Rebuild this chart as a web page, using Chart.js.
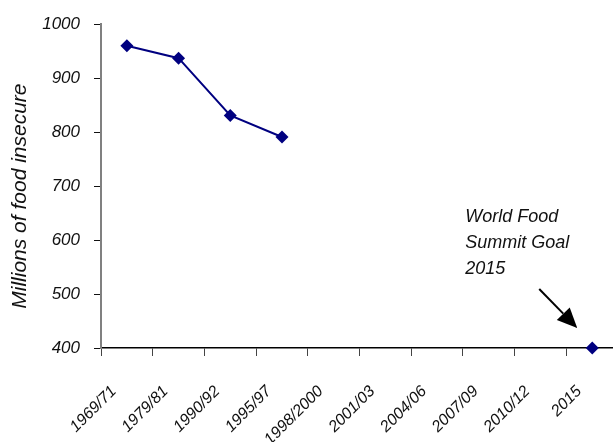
<!DOCTYPE html>
<html>
<head>
<meta charset="utf-8">
<script src="https://cdn.jsdelivr.net/npm/chart.js@4/dist/chart.umd.min.js"></script>
<style>
  html, body { margin: 0; padding: 0; overflow: hidden; background: #ffffff; }
  canvas { display: block; }
</style>
</head>
<body>
<canvas id="chart" width="632" height="442"></canvas>
<script>
// Survey periods along the horizontal axis
const periods = ['1969/71', '1979/81', '1990/92', '1995/97', '1998/2000',
                 '2001/03', '2004/06', '2007/09', '2010/12', '2015'];
// Millions of food-insecure people; the last value is the 2015 summit target
const foodInsecure = [960, 937, 831, 791, null, null, null, null, null, 400];
// Vertical axis range and step
const yMin = 400;
const yMax = 1000;
const yStep = 100;
// Axis title and callout text for the target point
const yTitle = 'Millions of food insecure';
const goalLines = ['World Food', 'Summit Goal', '2015'];
const goalIndex = periods.indexOf('2015');

const sans = "'Liberation Sans', Arial, sans-serif";

// Vertical axis title, drawn a little below the middle of the plot
const axisTitle = {
  id: 'axisTitle',
  afterDraw(chart) {
    const { ctx, chartArea } = chart;
    ctx.save();
    ctx.translate(20, (chartArea.top + chartArea.bottom) / 2 + 10);
    ctx.rotate(-Math.PI / 2);
    ctx.font = 'italic 21px ' + sans;
    ctx.fillStyle = '#111';
    ctx.textAlign = 'center';
    ctx.textBaseline = 'middle';
    ctx.fillText(yTitle, 0, 0);
    ctx.restore();
  }
};

// Callout text and arrow pointing at the target marker
const goalCallout = {
  id: 'goalCallout',
  afterDatasetsDraw(chart) {
    const pt = chart.getDatasetMeta(0).data[goalIndex];
    if (!pt) return;
    const ctx = chart.ctx;
    ctx.save();
    ctx.fillStyle = '#111';
    ctx.font = 'italic 18px ' + sans;
    ctx.textAlign = 'left';
    ctx.textBaseline = 'middle';
    goalLines.forEach((t, i) => ctx.fillText(t, pt.x - 127, pt.y - 131 + i * 26));

    const tx = pt.x - 15, ty = pt.y - 20;
    const sx = pt.x - 53, sy = pt.y - 59;
    const ang = Math.atan2(ty - sy, tx - sx);
    const headLen = 20, headHalf = 9;
    const bx = tx - headLen * Math.cos(ang), by = ty - headLen * Math.sin(ang);
    ctx.strokeStyle = '#000';
    ctx.lineWidth = 2;
    ctx.beginPath();
    ctx.moveTo(sx, sy);
    ctx.lineTo(bx, by);
    ctx.stroke();
    ctx.fillStyle = '#000';
    ctx.beginPath();
    ctx.moveTo(tx, ty);
    ctx.lineTo(bx + headHalf * Math.sin(ang), by - headHalf * Math.cos(ang));
    ctx.lineTo(bx - headHalf * Math.sin(ang), by + headHalf * Math.cos(ang));
    ctx.closePath();
    ctx.fill();
    ctx.restore();
  }
};

new Chart(document.getElementById('chart'), {
  type: 'line',
  data: {
    labels: periods,
    datasets: [{
      data: foodInsecure,
      borderColor: '#000080',
      backgroundColor: '#000080',
      borderWidth: 2,
      pointStyle: 'rectRot',
      pointRadius: 6.5,
      pointBorderWidth: 0,
      pointBackgroundColor: '#000080',
      tension: 0,
      spanGaps: false,
      clip: false
    }]
  },
  options: {
    responsive: false,
    animation: false,
    devicePixelRatio: 1,
    layout: { autoPadding: false, padding: { top: 24, right: 4, bottom: 0, left: 0 } },
    plugins: { legend: { display: false }, tooltip: { enabled: false } },
    scales: {
      x: {
        type: 'category',
        offset: true,
        grid: { display: true, drawOnChartArea: false, drawTicks: true, tickLength: 8, offset: true, color: '#444', lineWidth: 1 },
        border: { display: true, color: '#000', width: 1.5 },
        ticks: {
          autoSkip: false, minRotation: 45, maxRotation: 45,
          color: '#111', padding: 26, labelOffset: -13,
          font: { family: sans, size: 16, style: 'italic' }
        },
        afterFit: s => { s.height = 94; }
      },
      y: {
        min: yMin, max: yMax,
        grid: { display: true, drawOnChartArea: false, drawTicks: true, tickLength: 7, color: '#111', lineWidth: 1 },
        border: { display: true, color: '#808080', width: 2 },
        ticks: {
          stepSize: yStep, color: '#111', padding: 14,
          callback: v => String(v),
          font: { family: sans, size: 17, style: 'italic' }
        },
        afterFit: s => { s.width = 101; }
      }
    }
  },
  plugins: [goalCallout, axisTitle]
});
</script>
</body>
</html>
